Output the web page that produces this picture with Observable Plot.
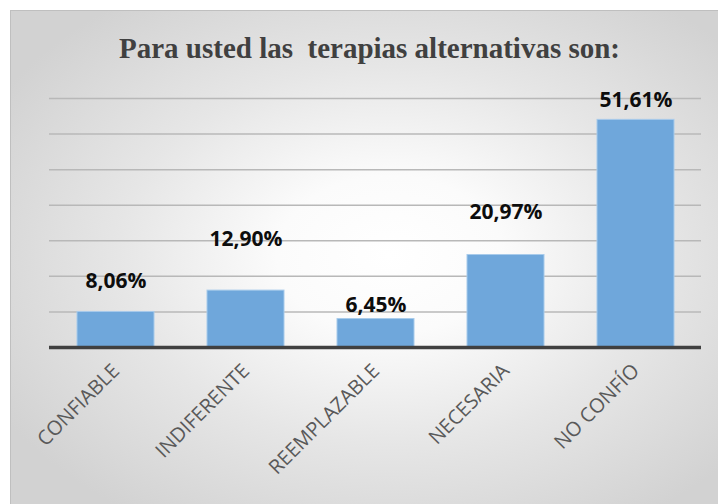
<!DOCTYPE html>
<html>
<head>
<meta charset="utf-8">
<script src="https://cdn.jsdelivr.net/npm/d3@7"></script>
<script src="https://cdn.jsdelivr.net/npm/@observablehq/plot@0.6"></script>
<style>
  html, body { margin: 0; padding: 0; }
  body { width: 718px; height: 504px; overflow: hidden; background: #fff; position: relative; }
  #frame {
    position: absolute; left: 10px; top: 10px; width: 730px; height: 510px;
    border: 1px solid #bfbfbf; box-sizing: border-box;
    background: radial-gradient(ellipse 62% 62% at 52% 48%, #ffffff 0%, #fbfbfb 25%, #e6e6e6 60%, #d2d2d2 100%);
  }
  #title {
    position: absolute; left: 0; top: 34px; width: 739px; text-align: center;
    font-family: "Liberation Serif", "Times New Roman", serif; font-weight: bold;
    font-size: 29px; line-height: 29px; color: #404040; white-space: pre;
  }
  #chart { position: absolute; left: 0; top: 80px; }
</style>
</head>
<body>
<div id="frame"></div>
<div id="title">Para usted las  terapias alternativas son:</div>
<div id="chart"></div>
<script>
// Data
const categories = ["CONFIABLE", "INDIFERENTE", "REEMPLAZABLE", "NECESARIA", "NO CONFÍO"];
const percentages = [8.06, 12.90, 6.45, 20.97, 51.61];
// Gridline values (the value axis is hidden, only its gridlines show)
const gridTicks = [8.06, 16.13, 24.19, 32.26, 40.32, 48.39, 56.45];
// Hand-placed label heights (in % units), as in the reference
const labelHeights = [15.0, 24.5, 9.5, 30.7, 56.0];

const rows = categories.map((c, i) => ({
  category: c,
  value: percentages[i],
  labelY: labelHeights[i],
  label: percentages[i].toFixed(2).replace(".", ",") + "%"
}));

const chart = Plot.plot({
  width: 718,
  height: 424,
  marginLeft: 49,
  marginRight: 17,
  marginTop: 18,
  marginBottom: 157,
  style: { background: "transparent", overflow: "visible" },
  x: { domain: categories, paddingInner: 0.41, paddingOuter: 0.205, label: null },
  y: { domain: [0, 56.45], axis: null },
  marks: [
    Plot.ruleY(gridTicks, { stroke: "#b8b8b8", strokeWidth: 1.5 }),
    Plot.barY(rows, { x: "category", y: "value", fill: "#6fa7db", stroke: "#a8cbeb", strokeWidth: 1 }),
    Plot.ruleY([0], { stroke: "#404040", strokeWidth: 3.5 }),
    Plot.text(rows, {
      x: "category", y: "labelY", text: "label",
      fontFamily: "Open Sans", fontWeight: "bold", fontSize: 21, fill: "#0d0d0d"
    }),
    Plot.axisX({
      tickSize: 0, tickPadding: 20, tickRotate: -45,
      fontFamily: "Open Sans", fontSize: 20, fill: "#595959", label: null
    })
  ]
});
document.getElementById("chart").appendChild(chart);
</script>
</body>
</html>
